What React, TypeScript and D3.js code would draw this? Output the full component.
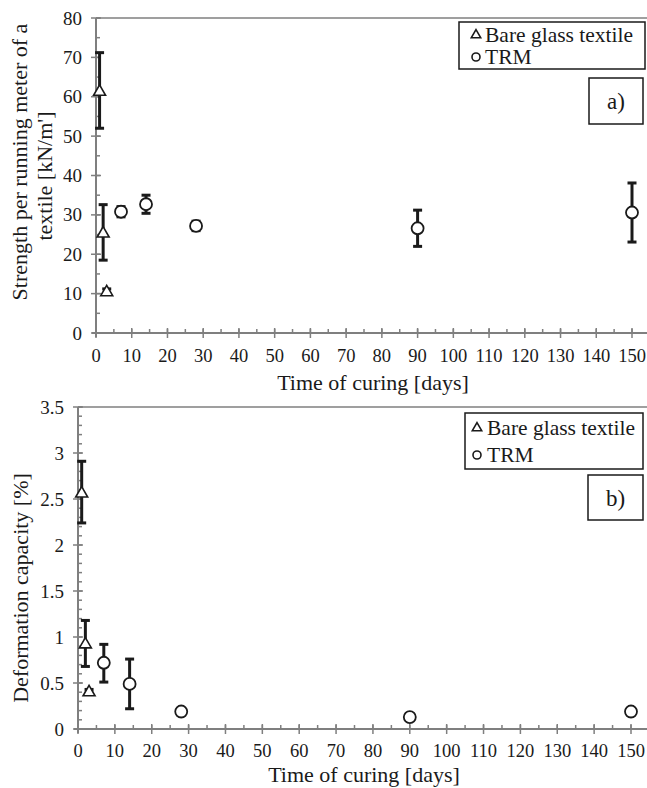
import React from "react";
import * as d3 from "d3";

// ---- data ----
// [day, mean, low, high]
const strengthBare: [number, number, number, number][] = [
  [1, 61.5, 52.0, 71.2],
  [2, 25.5, 18.5, 32.6],
  [3, 10.6, 9.9, 11.2],
];
const strengthTRM: [number, number, number, number][] = [
  [7, 30.8, 29.5, 32.1],
  [14, 32.7, 30.4, 35.0],
  [28, 27.2, 26.0, 28.4],
  [90, 26.6, 22.0, 31.2],
  [150, 30.6, 23.1, 38.1],
];
const deformBare: [number, number, number, number][] = [
  [1, 2.57, 2.24, 2.91],
  [2, 0.93, 0.68, 1.18],
  [3, 0.41, 0.39, 0.43],
];
const deformTRM: [number, number, number, number][] = [
  [7, 0.72, 0.51, 0.92],
  [14, 0.49, 0.22, 0.76],
  [28, 0.19, 0.16, 0.22],
  [90, 0.13, 0.12, 0.14],
  [150, 0.19, 0.16, 0.22],
];
const xTicks = d3.range(0, 151, 10);
const xMinor = d3.range(0, 151, 5);
const strengthTicks = d3.range(0, 81, 10);
const strengthMinor = d3.range(0, 81, 5);
const deformTicks = [0, 0.5, 1, 1.5, 2, 2.5, 3, 3.5];
const deformMinor = d3.range(0, 36, 1).map((v) => v / 10);
const legendLabels = ["Bare glass textile", "TRM"];

const FONT = "Liberation Serif";
const AXIS = "#7f7f7f";
const INK = "#1a1a1a";

type Pt = [number, number, number, number];

function Panel(props: {
  top: number;
  bottom: number;
  left: number;
  right: number;
  yMax: number;
  yTicks: number[];
  yMinor: number[];
  bare: Pt[];
  trm: Pt[];
  yTitle: string[];
  titleYs: number[];
  titleXs: number[];
  tickDy: number;
  titleDy: number;
  titleCx: number;
  legend: { x0: number; x1: number; y0: number; y1: number; mx: number; tx: number; b1: number; b2: number };
  tag: string;
  tagBox: { x0: number; x1: number; y0: number; y1: number };
}) {
  const p = props;
  const x = d3.scaleLinear().domain([0, 150]).range([p.left, p.right]);
  const y = d3.scaleLinear().domain([0, p.yMax]).range([p.bottom, p.top]);
  const tri = d3.symbol().type(d3.symbolTriangle).size(62)()!;
  const triSmall = d3.symbol().type(d3.symbolTriangle).size(38)()!;
  const err = (d: Pt, i: number) => (
    <g key={"e" + i} stroke={INK} strokeWidth={3}>
      <line x1={x(d[0])} x2={x(d[0])} y1={y(d[2])} y2={y(d[3])} />
      <line x1={x(d[0]) - 4.5} x2={x(d[0]) + 4.5} y1={y(d[2])} y2={y(d[2])} />
      <line x1={x(d[0]) - 4.5} x2={x(d[0]) + 4.5} y1={y(d[3])} y2={y(d[3])} />
    </g>
  );
  const L = p.legend;
  const T = p.tagBox;
  return (
    <g>
      {/* top border */}
      <line x1={p.left} x2={647} y1={p.top} y2={p.top} stroke={AXIS} strokeWidth={1.5} />
      {/* axes */}
      <line x1={p.left} x2={p.left} y1={p.top} y2={p.bottom + 4} stroke={AXIS} strokeWidth={2} />
      <line x1={p.left - 4} x2={647} y1={p.bottom} y2={p.bottom} stroke={AXIS} strokeWidth={2} />
      {p.yMinor.map((v, i) => (
        <line key={"ym" + i} x1={p.left} x2={p.left + 4} y1={y(v)} y2={y(v)} stroke={AXIS} strokeWidth={1.5} />
      ))}
      {p.yTicks.map((v, i) => (
        <g key={"yt" + i}>
          <line x1={p.left - 5} x2={p.left + 5} y1={y(v)} y2={y(v)} stroke={AXIS} strokeWidth={1.5} />
          <text x={p.left - 14} y={y(v) + 6.5} textAnchor="end" fontSize={19} fontFamily={FONT} fill={INK}>
            {String(v)}
          </text>
        </g>
      ))}
      {xMinor.map((v, i) => (
        <line key={"xm" + i} x1={x(v)} x2={x(v)} y1={p.bottom - 4} y2={p.bottom} stroke={AXIS} strokeWidth={1.5} />
      ))}
      {xTicks.map((v, i) => (
        <g key={"xt" + i}>
          <line x1={x(v)} x2={x(v)} y1={p.bottom - 5} y2={p.bottom + 5} stroke={AXIS} strokeWidth={1.5} />
          <text x={x(v)} y={p.bottom + p.tickDy} textAnchor="middle" fontSize={18.5} fontFamily={FONT} fill={INK}>
            {v}
          </text>
        </g>
      ))}
      <text x={p.titleCx} y={p.bottom + p.titleDy} textAnchor="middle" fontSize={22} fontFamily={FONT} fill={INK}>
        Time of curing [days]
      </text>
      {p.yTitle.map((t, i) => (
        <text
          key={"yl" + i}
          transform={`translate(${p.titleXs[i]},${p.titleYs[i]}) rotate(-90)`}
          textAnchor="middle"
          fontSize={22}
          fontFamily={FONT}
          fill={INK}
        >
          {t}
        </text>
      ))}
      {/* data */}
      {p.bare.map(err)}
      {p.trm.map((d, i) => err(d, i + 10))}
      {p.bare.map((d, i) => (
        <path key={"b" + i} d={tri} transform={`translate(${x(d[0])},${y(d[1]) + 1})`} fill="#fff" stroke={INK} strokeWidth={1.6} />
      ))}
      {p.trm.map((d, i) => (
        <circle key={"c" + i} cx={x(d[0])} cy={y(d[1])} r={6} fill="#fff" stroke={INK} strokeWidth={1.8} />
      ))}
      {/* legend */}
      <rect x={L.x0} y={L.y0} width={L.x1 - L.x0} height={L.y1 - L.y0} fill="#fff" stroke={INK} strokeWidth={1.5} />
      <path d={triSmall} transform={`translate(${L.mx},${L.b1 - 7})`} fill="#fff" stroke={INK} strokeWidth={1.6} />
      <circle cx={L.mx} cy={L.b2 - 7} r={4} fill="#fff" stroke={INK} strokeWidth={1.6} />
      <text x={L.tx} y={L.b1} fontSize={21.5} fontFamily={FONT} fill={INK}>
        {legendLabels[0]}
      </text>
      <text x={L.tx} y={L.b2} fontSize={21.5} fontFamily={FONT} fill={INK}>
        {legendLabels[1]}
      </text>
      <rect x={T.x0} y={T.y0} width={T.x1 - T.x0} height={T.y1 - T.y0} fill="#fff" stroke={INK} strokeWidth={1.5} />
      <text x={(T.x0 + T.x1) / 2} y={(T.y0 + T.y1) / 2 + 8} textAnchor="middle" fontSize={23} fontFamily={FONT} fill={INK}>
        {p.tag}
      </text>
    </g>
  );
}

export default function App() {
  return (
    <svg width={647} height={788} style={{ position: "absolute", left: 0, top: 0, background: "#fff" }}>
      <rect width={647} height={788} fill="#fff" />
      <Panel
        top={18}
        bottom={333}
        left={96}
        right={632}
        yMax={80}
        yTicks={strengthTicks}
        yMinor={strengthMinor}
        bare={strengthBare}
        trm={strengthTRM}
        yTitle={["Strength per running meter of a", "textile [kN/m']"]}
        titleXs={[27, 52]}
        titleYs={[162, 176]}
        tickDy={29}
        titleDy={57}
        titleCx={373}
        legend={{ x0: 459, x1: 645, y0: 22, y1: 69, mx: 476, tx: 485, b1: 42, b2: 64 }}
        tag="a)"
        tagBox={{ x0: 589, x1: 643, y0: 78, y1: 124 }}
      />
      <Panel
        top={407}
        bottom={729}
        left={78}
        right={631}
        yMax={3.5}
        yTicks={deformTicks}
        yMinor={deformMinor}
        bare={deformBare}
        trm={deformTRM}
        yTitle={["Deformation capacity [%]"]}
        titleXs={[28]}
        titleYs={[588]}
        tickDy={28}
        titleDy={53}
        titleCx={364}
        legend={{ x0: 465, x1: 643, y0: 413, y1: 469, mx: 477, tx: 487, b1: 435, b2: 462 }}
        tag="b)"
        tagBox={{ x0: 588, x1: 643, y0: 475, y1: 520 }}
      />
    </svg>
  );
}
